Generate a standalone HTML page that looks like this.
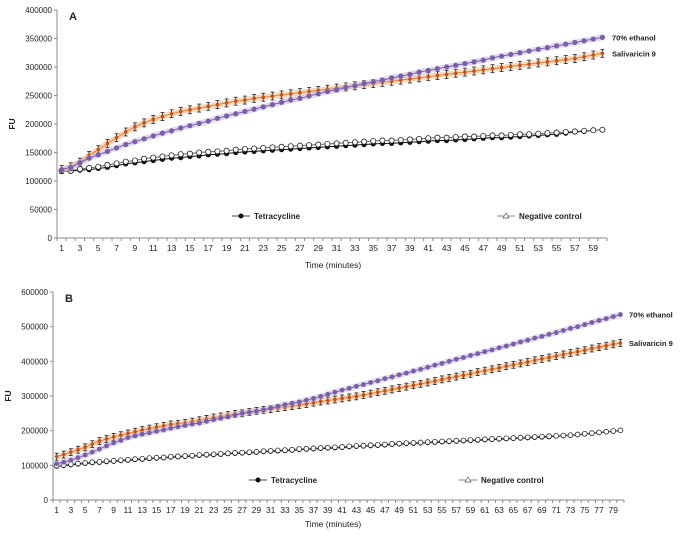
<!DOCTYPE html>
<html><head><meta charset="utf-8"><style>
body{margin:0;background:#fff;}
svg{display:block;font-family:"Liberation Sans",Arial,sans-serif;}
</style></head><body>
<svg id="s" width="683" height="536" viewBox="0 0 683 536"></svg>
<script>
// ---- Panel A data (x1000 FU) ----
const aEthanol=[120,124,132,140,146,152,158,164,169,174,179,184,188,193,197,201,205,210,214,218,222,226,230,234,238,242,245,249,253,257,260,264,267,271,274,277,281,284,287,291,294,297,300,303,306,309,312,316,319,322,325,328,331,334,337,340,343,346,349,352];
const aSaliv=[120,125,133,145,155,166,176,186,195,202,208,213,218,222,225,228,231,234,237,240,242,245,247,249,251,253,255,257,259,261,263,265,267,269,271,273,275,277,279,281,283,285,287,289,291,293,295,297,299,301,303,305,307,309,311,313,315,318,321,324];
const aTetra=[117,117,119,120,122,124,127,130,132,134,136,138,140,141,143,144,146,147,148,150,151,152,153,154,155,156,157,158,159,160,161,162,163,164,165,166,166,167,168,169,170,171,171,172,173,174,175,176,176,177,178,179,180,181,182,184,186,187,189,190];
const aNeg=[118,118,121,123,125,128,131,134,136,139,141,143,145,147,148,150,151,152,153,155,156,157,158,159,160,161,162,163,164,165,166,167,168,169,170,171,171,172,173,174,175,176,176,177,178,178,179,180,180,181,182,182,183,184,185,186,187,188,189,190];
const aTicks=[0,50000,100000,150000,200000,250000,300000,350000,400000];
// ---- Panel B data (x1000 FU) ----
const bEthanol=[105,109,115,122,130,138,147,156,165,172,180,185,190,194,198,202,207,211,215,219,222,227,232,236,240,245,250,253,256,260,265,270,275,279,283,288,293,299,305,311,317,322,328,333,339,344,350,355,361,366,372,377,383,389,394,400,406,411,417,422,428,433,439,444,450,456,461,467,472,478,483,489,495,500,506,512,518,523,529,535];
const bSaliv=[125,131,138,145,152,161,170,176,182,187,192,197,202,206,210,214,218,220,222,226,230,234,238,241,245,248,250,254,257,260,262,265,268,271,274,277,281,284,287,290,293,296,299,303,307,311,315,319,323,327,331,335,339,343,348,352,356,360,364,369,373,377,381,386,390,394,398,403,407,411,415,420,424,428,432,437,441,445,449,453];
const bTetra=[97,99,101,103,105,107,108,110,111,113,114,116,117,119,120,121,123,124,125,126,128,129,130,131,133,134,135,136,137,139,140,141,142,143,145,146,147,148,149,150,151,153,154,155,156,157,158,160,161,162,163,164,165,166,167,168,169,170,171,172,173,174,175,176,177,178,179,180,181,182,184,185,186,188,190,192,194,196,198,200];
const bNeg=[99,101,103,105,107,109,110,112,113,115,116,118,119,121,122,123,125,126,127,128,130,131,132,133,135,136,137,138,139,141,142,143,144,145,147,148,149,150,151,152,153,155,156,157,158,159,160,162,163,164,165,166,167,168,169,170,171,172,173,174,175,176,177,178,179,180,181,182,183,184,185,186,187,189,191,193,195,197,199,201];
const bTicks=[0,100000,200000,300000,400000,500000,600000];

const NS="http://www.w3.org/2000/svg";const S=document.getElementById('s');
function mk(t,a,p){const e=document.createElementNS(NS,t);for(const k in a)e.setAttribute(k,a[k]);(p||S).appendChild(e);return e;}
function txt(x,y,s,a,p){const e=mk('text',Object.assign({x:x,y:y,'font-size':8.5,fill:'#222'},a||{}),p);e.textContent=s;return e;}

function panel(o){
  const g=mk('g',{});
  
  
  const n=o.n, step=(o.x1-o.x0)/n;
  const X=i=>o.x0+step*(i+0.5);
  const Y=v=>o.yb-(v/o.ymax)*(o.yb-o.yt);
  const ya=mk('line',{x1:o.x0,y1:o.yt,x2:o.x0,y2:o.yb,stroke:'#888','stroke-width':1},g);
  
  const xa=mk('line',{x1:o.x0,y1:o.yb,x2:o.x1,y2:o.yb,stroke:'#888','stroke-width':1},g);
  
  o.ticks.forEach(t=>{
    mk('line',{x1:o.x0-3,y1:Y(t),x2:o.x0,y2:Y(t),stroke:'#888'},g);
    const e=txt(o.x0-5,Y(t)+3,String(t),{'text-anchor':'end','font-size':8},g);
    
  });
  for(let i=0;i<=n;i++)mk('line',{x1:o.x0+step*i,y1:o.yb,x2:o.x0+step*i,y2:o.yb+3,stroke:'#888'},g);
  for(let i=0;i<n;i+=2){const e=txt(X(i),o.yb+13,String(i+1),{'text-anchor':'middle','font-size':8.5},g);
    }
  const f=txt(o.x0-42,(o.yt+o.yb)/2,'FU',{'font-weight':'bold','font-size':8.5,'text-anchor':'middle',transform:`rotate(-90 ${o.x0-42} ${(o.yt+o.yb)/2})`},g);
  
  const xt=txt(o.xtx,o.xty,'Time (minutes)',{'text-anchor':'middle','font-size':8.5},g);
  
  const pl=txt(o.x0+12,o.yt+10,o.label,{'font-weight':'bold','font-size':11},g);
  
  function series(arr,color,kind,nm,glow){
    const sg=mk('g',{},g);
    
    const pts=arr.map((v,i)=>X(i)+','+Y(v*1000)).join(' ');
    if(glow)mk('polyline',{points:pts,fill:'none',stroke:glow,'stroke-width':6,'stroke-opacity':0.5},sg);
    mk('polyline',{points:pts,fill:'none',stroke:color,'stroke-width':1},sg);
    arr.forEach((v,i)=>{
      const x=X(i),y=Y(v*1000);let m;
      if(kind==='err'){
        const e=o.err,y1=Y(v*1000+e),y2=Y(v*1000-e);
        mk('line',{x1:x,y1:y1,x2:x,y2:y2,stroke:'#222','stroke-width':0.8},sg);
        mk('line',{x1:x-2,y1:y1,x2:x+2,y2:y1,stroke:'#222','stroke-width':0.8},sg);
        mk('line',{x1:x-2,y1:y2,x2:x+2,y2:y2,stroke:'#222','stroke-width':0.8},sg);
        m=mk('circle',{cx:x,cy:y,r:1.8,fill:'#c0531c'},sg);
      }else if(kind==='dot'){m=mk('circle',{cx:x,cy:y,r:o.r,fill:color},sg);}
      else if(kind==='tri'){m=mk('circle',{cx:x,cy:y,r:o.r,fill:'#fff',stroke:'#222','stroke-width':0.8},sg);}
      else {m=mk('circle',{cx:x,cy:y,r:o.r,fill:'#7a5fa8'},sg);}
      
    });
  }
  series(o.tetra,'#111','dot','tetracycline-series');
  series(o.neg,'#666','tri','negative-control-series');
  series(o.saliv,'#e0803a','err','salivaricin-9-series','#f2b27a');
  series(o.eth,'#7a5fa8','pur','ethanol-series','#c3b3e0');
  const l1=txt(o.x1+5,Y(o.eth[o.n-1]*1000)+3,'70% ethanol',{'font-weight':'bold','font-size':7.5},g);
  
  const l2=txt(o.x1+5,Y(o.saliv[o.n-1]*1000)+3,'Salivaricin 9',{'font-weight':'bold','font-size':7.5},g);
  
  const lg1=mk('g',{},g);
  mk('line',{x1:o.lg1-9,y1:o.lgy,x2:o.lg1+9,y2:o.lgy,stroke:'#444'},lg1);
  mk('circle',{cx:o.lg1,cy:o.lgy,r:2.5,fill:'#111'},lg1);
  txt(o.lg1+13,o.lgy+3,'Tetracycline',{'font-weight':'bold','font-size':8},lg1);
  const lg2=mk('g',{},g);
  mk('line',{x1:o.lg2-9,y1:o.lgy,x2:o.lg2+9,y2:o.lgy,stroke:'#888'},lg2);
  mk('polygon',{points:`${o.lg2},${o.lgy-3} ${o.lg2-3},${o.lgy+2} ${o.lg2+3},${o.lgy+2}`,fill:'#fff',stroke:'#555','stroke-width':0.7},lg2);
  txt(o.lg2+13,o.lgy+3,'Negative control',{'font-weight':'bold','font-size':8},lg2);
}
panel({name:'panel-a-chart',label:'A',n:60,x0:57,x1:607,yt:10,yb:238,ymax:400000,ticks:aTicks,
  eth:aEthanol,saliv:aSaliv,tetra:aTetra,neg:aNeg,err:7000,r:2.6,xtx:333,xty:268,lg1:241,lg2:506,lgy:216});
panel({name:'panel-b-chart',label:'B',n:80,x0:53,x1:624,yt:292,yb:500,ymax:600000,ticks:bTicks,
  eth:bEthanol,saliv:bSaliv,tetra:bTetra,neg:bNeg,err:10000,r:2.4,xtx:333,xty:527,lg1:258,lg2:468,lgy:480});
</script>
</body></html>
